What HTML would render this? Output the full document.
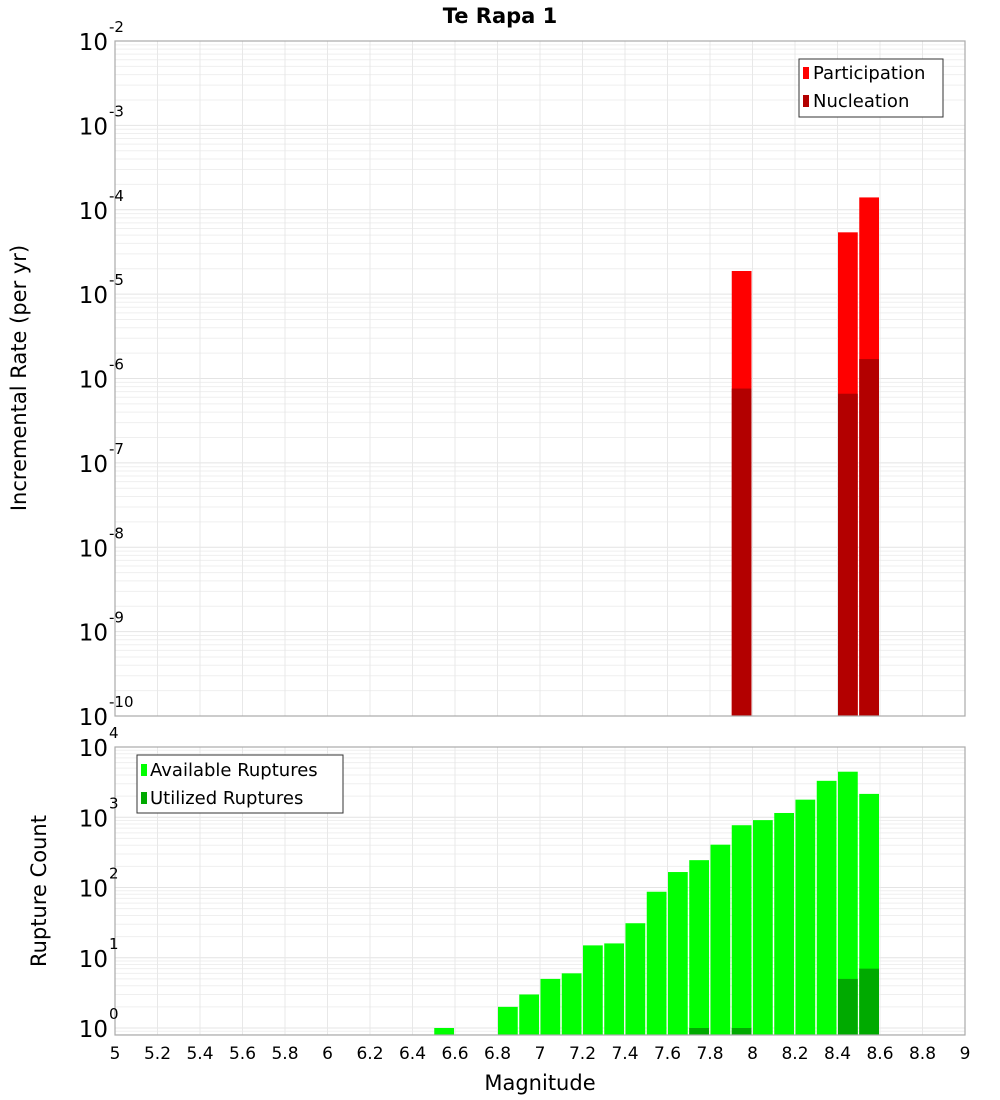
<!DOCTYPE html>
<html><head><meta charset="utf-8">
<style>
body{margin:0;background:#fff;}
svg{display:block;font-family:"DejaVu Sans","Liberation Sans",sans-serif;}
</style></head>
<body>
<svg id="chart" width="1000" height="1100" viewBox="0 0 1000 1100" xmlns="http://www.w3.org/2000/svg">
<text x="500" y="23" text-anchor="middle" font-size="21" font-weight="bold">Te Rapa 1</text>
<g id="top"></g>
<g id="bot"></g>
<text x="540" y="1090" text-anchor="middle" font-size="21">Magnitude</text>
<text transform="translate(26,378) rotate(-90)" text-anchor="middle" font-size="21">Incremental Rate (per yr)</text>
<text transform="translate(46,891) rotate(-90)" text-anchor="middle" font-size="21">Rupture Count</text>
</svg>
<script>
const rateMags=[7.95,8.45,8.55];
const participation=[1.88e-5,5.4e-5,1.4e-4];
const nucleation=[7.6e-7,6.6e-7,1.7e-6];
const countMags=[6.55,6.85,6.95,7.05,7.15,7.25,7.35,7.45,7.55,7.65,7.75,7.85,7.95,8.05,8.15,8.25,8.35,8.45,8.55];
const available=[1,2,3,5,6,15,16,31,87,166,245,407,770,910,1150,1780,3300,4450,2150];
const utilMags=[7.75,7.95,8.45,8.55];
const utilized=[1,1,5,7];
const xTicks=[5,5.2,5.4,5.6,5.8,6,6.2,6.4,6.6,6.8,7,7.2,7.4,7.6,7.8,8,8.2,8.4,8.6,8.8,9];

const NS="http://www.w3.org/2000/svg";
function mk(p,tag,a){const e=document.createElementNS(NS,tag);for(const k in a)e.setAttribute(k,a[k]);p.appendChild(e);return e;}
const X0=115,X1=965;
const xs=m=>X0+(m-5)/4*(X1-X0);
const binW=0.1;

function panel(g,top,bottom,yTopExp,ySc,minVal){
  // background grid
  for(let e=Math.floor(Math.log10(minVal));e<yTopExp;e++){
    for(let k=1;k<=9;k++){
      const v=k*Math.pow(10,e);
      if(v<minVal*0.999)continue;
      const y=ySc(v);
      if(y<top-0.5||y>bottom)continue;
      const l=mk(g,'line',{x1:X0,x2:X1,y1:y,y2:y,stroke:k==1?'#e4e4e4':'#efefef','stroke-width':1});
      
      
    }
  }
  xTicks.forEach(t=>{
    const x=xs(t);
    const l=mk(g,'line',{x1:x,x2:x,y1:top,y2:bottom,stroke:'#e8e8e8','stroke-width':1});
    
    
  });
}
function frame(g,top,bottom){
  const r=mk(g,'rect',{x:X0,y:top,width:X1-X0,height:bottom-top,fill:'none',stroke:'#aaaaaa','stroke-width':1.2});
  
  
}
function ylabel(g,y,exp,sup){
  const t=mk(g,'text',{x:108,y:y+9,'text-anchor':'end','font-size':23});
  
  
  t.textContent='10';
  const s=mk(g,'text',{x:109,y:y-9,'text-anchor':'start','font-size':15});
  
  
  s.textContent=String(exp);
}
function bar(g,m,v,ySc,bottom,color,name){
  const x=xs(m-binW/2)+0.5,w=xs(m+binW/2)-xs(m-binW/2)-1.5;
  const y=ySc(v);
  const r=mk(g,'rect',{x:x,y:y,width:w,height:bottom-y,fill:color});
  
  
}

// Top panel
const tg=document.getElementById('top');
const T0=41,T1=716;
const ySt=v=>T0+(-2-Math.log10(v))/8*(T1-T0);
panel(tg,T0,T1,-2,ySt,1e-10);
rateMags.forEach((m,i)=>bar(tg,m,participation[i],ySt,T1,'#ff0000','participation-bar'));
rateMags.forEach((m,i)=>bar(tg,m,nucleation[i],ySt,T1,'#b30000','nucleation-bar'));
frame(tg,T0,T1);
for(let e=-2;e>=-10;e--)ylabel(tg,ySt(Math.pow(10,e)),e);

// legend top
(function(){
  const lg=mk(tg,'g',{});
  
  
  mk(lg,'rect',{x:799,y:59,width:144,height:58,fill:'#fff',stroke:'#333','stroke-width':1});
  mk(lg,'rect',{x:803,y:67,width:6,height:12,fill:'#ff0000'});
  mk(lg,'rect',{x:803,y:95,width:6,height:12,fill:'#b30000'});
  const a=mk(lg,'text',{x:813,y:79,'font-size':18});a.textContent='Participation';
  
  const b=mk(lg,'text',{x:813,y:107,'font-size':18});b.textContent='Nucleation';
  
})();

// Bottom panel
const bg=document.getElementById('bot');
const B0=747,B1=1035,Bzero=1028;
const dec=(Bzero-B0)/4;
const ySb=v=>Bzero-Math.log10(v)*dec;
panel(bg,B0,B1,4,ySb,0.8);
countMags.forEach((m,i)=>bar(bg,m,available[i],ySb,B1,'#00ff00','available-bar'));
utilMags.forEach((m,i)=>bar(bg,m,utilized[i],ySb,B1,'#00aa00','utilized-bar'));
frame(bg,B0,B1);
for(let e=4;e>=0;e--)ylabel(bg,ySb(Math.pow(10,e)),e);
xTicks.forEach(t=>{
  const tx=mk(bg,'text',{x:xs(t),y:1059,'text-anchor':'middle','font-size':17});
  
  
  tx.textContent=String(t);
});
(function(){
  const lg=mk(bg,'g',{});
  
  
  mk(lg,'rect',{x:137,y:755,width:206,height:58,fill:'#fff',stroke:'#333','stroke-width':1});
  mk(lg,'rect',{x:141,y:764,width:6,height:12,fill:'#00ff00'});
  mk(lg,'rect',{x:141,y:792,width:6,height:12,fill:'#00aa00'});
  const a=mk(lg,'text',{x:150,y:776,'font-size':18});a.textContent='Available Ruptures';
  
  const b=mk(lg,'text',{x:150,y:804,'font-size':18});b.textContent='Utilized Ruptures';
  
})();
</script>
</body></html>
